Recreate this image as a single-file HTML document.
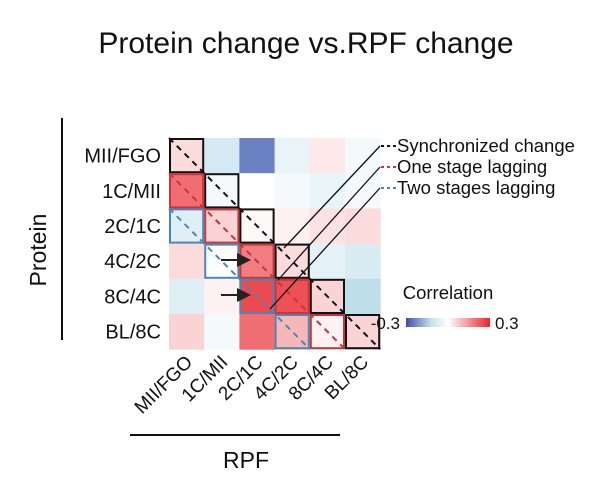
<!DOCTYPE html>
<html><head><meta charset="utf-8"><style>
body{margin:0;background:#fff;width:612px;height:493px;overflow:hidden;font-family:"Liberation Sans",sans-serif}
</style></head><body>
<svg id="c" width="612" height="493" font-family="Liberation Sans, sans-serif">
<defs><linearGradient id="g" x1="0" x2="1"><stop offset="0" stop-color="#3b4fa8"/><stop offset="0.3" stop-color="#c8e1ec"/><stop offset="0.5" stop-color="#ffffff"/><stop offset="1" stop-color="#e8262b"/></linearGradient>
<marker id="ah" markerWidth="7" markerHeight="7" refX="6" refY="3.5" orient="auto"><path d="M0,0L7,3.5L0,7z" fill="#222"/></marker></defs>
<text x="306" y="53" text-anchor="middle" font-size="30" fill="#111">Protein change vs.RPF change</text>
<g id="cells"></g><g id="overlay"></g>
</svg>
<script>
const rowLabels=["MII/FGO","1C/MII","2C/1C","4C/2C","8C/4C","BL/8C"];
const colLabels=["MII/FGO","1C/MII","2C/1C","4C/2C","8C/4C","BL/8C"];
const row0=[0.05,-0.08,-0.25,-0.04,0.03,-0.02];
const row1=[0.2,-0.02,0.0,-0.02,-0.04,-0.02];
const row2=[-0.06,0.06,0.01,0.02,0.04,0.05];
const row3=[0.05,-0.01,0.18,0.05,-0.05,-0.07];
const row4=[-0.06,0.02,0.25,0.24,0.06,-0.12];
const row5=[0.06,-0.02,0.2,0.1,0.02,0.06];
const values=[row0,row1,row2,row3,row4,row5];
const NS="http://www.w3.org/2000/svg";
const X0=169,Y0=138,CS=35.2,N=6;
const xs=i=>X0+i*CS, ys=j=>Y0+j*CS;
const lerp=(a,b,t)=>Math.round(a+(b-a)*t);
function col(v){const t=Math.max(-1,Math.min(1,v/0.3));
 if(t<0){const k=-t;
  if(k<0.4){const u=k/0.4;return `rgb(${lerp(255,190,u)},${lerp(255,222,u)},${lerp(255,234,u)})`;}
  const u=(k-0.4)/0.6;return `rgb(${lerp(190,75,u)},${lerp(222,95,u)},${lerp(234,178,u)})`;}
 return `rgb(${lerp(255,232,t)},${lerp(255,38,t)},${lerp(255,43,t)})`;}
function mk(tag,attrs,parent){const e=document.createElementNS(NS,tag);for(const k in attrs)e.setAttribute(k,attrs[k]);parent.appendChild(e);return e;}
const cells=document.getElementById('cells'),ov=document.getElementById('overlay');
values.forEach((r,j)=>r.forEach((v,i)=>{
 const e=mk('rect',{x:xs(i),y:ys(j),width:CS+0.5,height:CS+0.5,fill:col(v)},cells);
 
 
}));
const boxSets=[[0,'#111'],[1,'#c8353a'],[2,'#4a86b8']];
boxSets.forEach(([off,c])=>{for(let i=0;i+off<N;i++){
 const e=mk('rect',{x:xs(i)+1,y:ys(i+off)+1,width:CS-2,height:CS-2,fill:'none',stroke:c,'stroke-width':2},ov);
 
 
}});
boxSets.forEach(([off,c])=>{
 const e=mk('line',{x1:xs(0),y1:ys(off),x2:xs(N-off),y2:ys(N),stroke:c,'stroke-width':2,'stroke-dasharray':'6,5'},ov);
 
 
});
const leg=[["Synchronized change",'#111',146,[284,248]],["One stage lagging",'#c8353a',167,[278,280]],["Two stages lagging",'#4a86b8',188,[270,309]]];
leg.forEach(([t,c,y,p])=>{
 const l=mk('line',{x1:p[0],y1:p[1],x2:380,y2:y,stroke:'#111','stroke-width':1.3},ov);
 
 
 const d=mk('line',{x1:381,y1:y,x2:396,y2:y,stroke:c,'stroke-width':2,'stroke-dasharray':'3,3'},ov);
 
 
 const tx=mk('text',{x:397,y:y+6,'font-size':18.5,fill:'#111'},ov);tx.textContent=t;
 
 
});
[260,295].forEach(y=>{
 const a=mk('line',{x1:221,y1:y,x2:249,y2:y,stroke:'#222','stroke-width':2,'marker-end':'url(#ah)'},ov);
 
 
});
rowLabels.forEach((t,j)=>{const e=mk('text',{x:161,y:ys(j)+CS/2+7,'text-anchor':'end','font-size':20,fill:'#111'},ov);e.textContent=t;
 
 });
colLabels.forEach((t,i)=>{const cx=xs(i)+CS/2+7,cy=ys(N)+14;
 const e=mk('text',{x:cx,y:cy,'text-anchor':'end','font-size':19,fill:'#111',transform:`rotate(-45 ${cx} ${cy})`},ov);e.textContent=t;
 
 });
let e=mk('line',{x1:62,y1:118,x2:62,y2:340,stroke:'#111','stroke-width':2},ov);


e=mk('text',{x:46,y:250,'text-anchor':'middle','font-size':23,fill:'#111',transform:'rotate(-90 46 250)'},ov);e.textContent='Protein';


e=mk('line',{x1:130,y1:435,x2:340,y2:435,stroke:'#111','stroke-width':2},ov);


e=mk('text',{x:246,y:468,'text-anchor':'middle','font-size':23,fill:'#111'},ov);e.textContent='RPF';


e=mk('text',{x:448,y:299,'text-anchor':'middle','font-size':18.5,fill:'#111'},ov);e.textContent='Correlation';


e=mk('rect',{x:406,y:318,width:84,height:9,fill:'url(#g)'},ov);


e=mk('text',{x:400,y:329,'text-anchor':'end','font-size':17,fill:'#111'},ov);e.textContent='-0.3';


e=mk('text',{x:495,y:329,'font-size':17,fill:'#111'},ov);e.textContent='0.3';


</script>
</body></html>
